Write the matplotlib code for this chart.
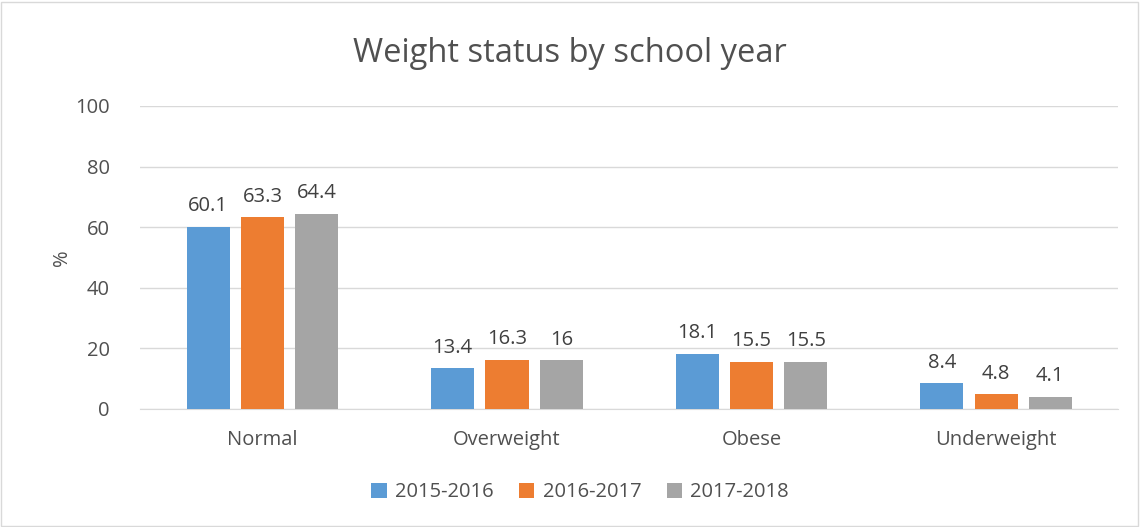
import numpy as np
import matplotlib
matplotlib.use("Agg")
import matplotlib.pyplot as plt

plt.rcParams['font.family'] = ['Open Sans', 'DejaVu Sans']

categories = ["Normal", "Overweight", "Obese", "Underweight"]
years = ["2015-2016", "2016-2017", "2017-2018"]
v2015 = [60.1, 13.4, 18.1, 8.4]
v2016 = [63.3, 16.3, 15.5, 4.8]
v2017 = [64.4, 16, 15.5, 4.1]
colors = ["#5B9BD5", "#ED7D31", "#A5A5A5"]
txt = "#505050"

fig = plt.figure(figsize=(11.4, 5.27), dpi=100)
ax = fig.add_axes([0.123, 0.224, 0.858, 0.575])

x = np.arange(len(categories))
w = 0.176
step = 0.222
for i, (vals, lab) in enumerate(zip([v2015, v2016, v2017], years)):
    bars = ax.bar(x + (i - 1) * step, vals, w, color=colors[i], label=lab, zorder=3)
    for b, v in zip(bars, vals):
        s = ("%g" % v)
        ax.text(b.get_x() + b.get_width() / 2, v + 3.5, s, ha='center', va='bottom',
                fontsize=14.5, color="#404040")

ax.set_xlim(-0.5, 3.5)
ax.set_ylim(0, 100)
ax.set_yticks(range(0, 101, 20))
ax.set_xticks(x)
ax.set_xticklabels(categories)
ax.grid(axis='y', color='#D9D9D9', linewidth=1, zorder=0)
for sp in ['top', 'right', 'left']:
    ax.spines[sp].set_visible(False)
ax.spines['bottom'].set_color('#D9D9D9')
ax.tick_params(axis='both', length=0, labelsize=14.5, colors=txt)
ax.tick_params(axis='y', pad=22)
ax.tick_params(axis='x', pad=15)
ax.set_ylabel("%", fontsize=14.5, color=txt, labelpad=2)

fig.suptitle("Weight status by school year", y=0.93, fontsize=23.5, color=txt)

leg = fig.legend(loc='center', bbox_to_anchor=(0.509, 0.066), ncol=3, frameon=False,
                 fontsize=14.5, handlelength=0.75, handleheight=0.75, columnspacing=1.3,
                 handletextpad=0.4)
for t in leg.get_texts():
    t.set_color(txt)

fig.patches.append(plt.Rectangle((0.001, 0.002), 0.997, 0.995, transform=fig.transFigure,
                                 fill=False, edgecolor='#D9D9D9', linewidth=1))

fig.savefig("out.png", dpi=100)
